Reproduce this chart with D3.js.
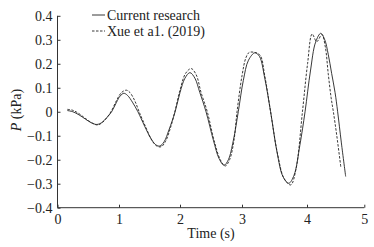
<!DOCTYPE html>
<html><head><meta charset="utf-8">
<script src="https://cdn.jsdelivr.net/npm/d3@7"></script>
<style>body{margin:0;background:#fff}svg{display:block}text{font-family:"Liberation Serif","Times New Roman",serif;fill:#222}</style>
</head><body>
<script>
const seriesNames = ["Current research", "Xue et a1. (2019)"];
const xTicks = [0, 1, 2, 3, 4, 5];
const yTicks = [-0.4, -0.3, -0.2, -0.1, 0, 0.1, 0.2, 0.3, 0.4];
const currentT = [0.16,0.25,0.35,0.45,0.55,0.64,0.72,0.80,0.88,0.96,1.02,1.08,1.14,1.22,1.31,1.42,1.52,1.60,1.67,1.74,1.82,1.92,2.00,2.08,2.16,2.24,2.32,2.42,2.54,2.63,2.71,2.78,2.86,2.94,3.02,3.10,3.20,3.27,3.35,3.44,3.54,3.63,3.72,3.80,3.89,3.97,4.06,4.15,4.24,4.31,4.37,4.43,4.49,4.535,4.60,4.675];
const currentP = [0.005,0.0,-0.013,-0.03,-0.046,-0.053,-0.045,-0.025,0.0,0.04,0.066,0.077,0.068,0.04,0.0,-0.06,-0.11,-0.137,-0.143,-0.125,-0.075,0.0,0.08,0.14,0.163,0.14,0.08,0.0,-0.12,-0.195,-0.223,-0.2,-0.12,0.0,0.13,0.215,0.246,0.23,0.14,0.0,-0.17,-0.27,-0.298,-0.265,-0.14,0.0,0.17,0.29,0.327,0.3,0.24,0.16,0.08,0.0,-0.13,-0.27];
const xueT = [0.16,0.25,0.35,0.45,0.55,0.65,0.73,0.81,0.88,0.96,1.04,1.12,1.18,1.26,1.33,1.44,1.54,1.62,1.69,1.76,1.84,1.92,2.00,2.09,2.18,2.26,2.34,2.44,2.55,2.65,2.73,2.80,2.87,2.92,3.00,3.06,3.11,3.20,3.28,3.35,3.44,3.55,3.65,3.75,3.83,3.93,4.01,4.09,4.17,4.26,4.32,4.37,4.42,4.46,4.52,4.59];
const xueP = [0.01,0.006,-0.008,-0.027,-0.045,-0.055,-0.045,-0.022,0.005,0.047,0.08,0.09,0.08,0.045,0.0,-0.065,-0.12,-0.143,-0.146,-0.125,-0.07,0.005,0.09,0.16,0.18,0.155,0.08,0.0,-0.12,-0.2,-0.226,-0.2,-0.12,0.0,0.15,0.225,0.247,0.247,0.235,0.15,0.0,-0.18,-0.28,-0.305,-0.24,0.0,0.2,0.324,0.292,0.322,0.27,0.16,0.06,0.0,-0.1,-0.23];

const W = 374, H = 247;
const svg = d3.select("body").append("svg").attr("width", W).attr("height", H);
const x = d3.scaleLinear().domain(xTicks).range([57.5, 119, 180, 242, 307, 364.3]);
const y = d3.scaleLinear().domain([-0.4, 0.4]).range([207.7, 15.8]);

const xAxis = d3.axisBottom(x).tickValues(xTicks).tickSize(-3).tickPadding(6).tickFormat(d3.format("d"));
const gx = svg.append("g").attr("transform", `translate(0,${y(-0.4)})`).call(xAxis);
const yAxis = d3.axisLeft(y).tickValues(yTicks).tickSize(-3).tickPadding(5)
  .tickFormat(d => d === 0 ? "0" : d3.format(".1f")(d).replace("-", "\u2212"));
const gy = svg.append("g").attr("transform", `translate(${x(0)},0)`).call(yAxis);
[gx, gy].forEach(g => {
  g.select(".domain").attr("stroke", "#333").attr("stroke-width", 1);
  g.selectAll(".tick line").attr("stroke", "#333");
  g.selectAll("text").attr("font-size", 14).attr("font-family", "Liberation Serif, serif").attr("fill", "#222");
});
gx.select(".domain").attr("d", `M${x(0)},0H${x(5)}`);
gy.select(".domain").attr("d", `M0,${y(-0.4)}V${y(0.4)}`);

const line = d3.line().x(d => x(d[0])).y(d => y(d[1])).curve(d3.curveCatmullRom.alpha(0.5));
const cur = currentT.map((t, i) => [t, currentP[i]]);
const xue = xueT.map((t, i) => [t, xueP[i]]);
svg.append("path").datum(cur).attr("d", line).attr("fill", "none").attr("stroke", "#222").attr("stroke-width", 0.9);
svg.append("path").datum(xue).attr("d", line).attr("fill", "none").attr("stroke", "#222").attr("stroke-width", 0.9).attr("stroke-dasharray", "2.5,1.5");

// legend
const leg = svg.append("g");
seriesNames.forEach((name, i) => {
  const yy = 15 + i * 16;
  leg.append("line").attr("x1", 92).attr("x2", 105).attr("y1", yy).attr("y2", yy)
    .attr("stroke", "#222").attr("stroke-width", 0.9).attr("stroke-dasharray", i ? "2.5,1.5" : null);
  leg.append("text").attr("x", 107).attr("y", yy + 4.5).attr("font-size", 14).text(name);
});

svg.append("text").attr("x", 211).attr("y", 238).attr("text-anchor", "middle").attr("font-size", 14).text("Time (s)");
svg.append("text").attr("transform", "translate(21,110) rotate(-90)").attr("text-anchor", "middle").attr("font-size", 14)
  .html('<tspan font-style="italic">P</tspan> (kPa)');
</script>
</body></html>
